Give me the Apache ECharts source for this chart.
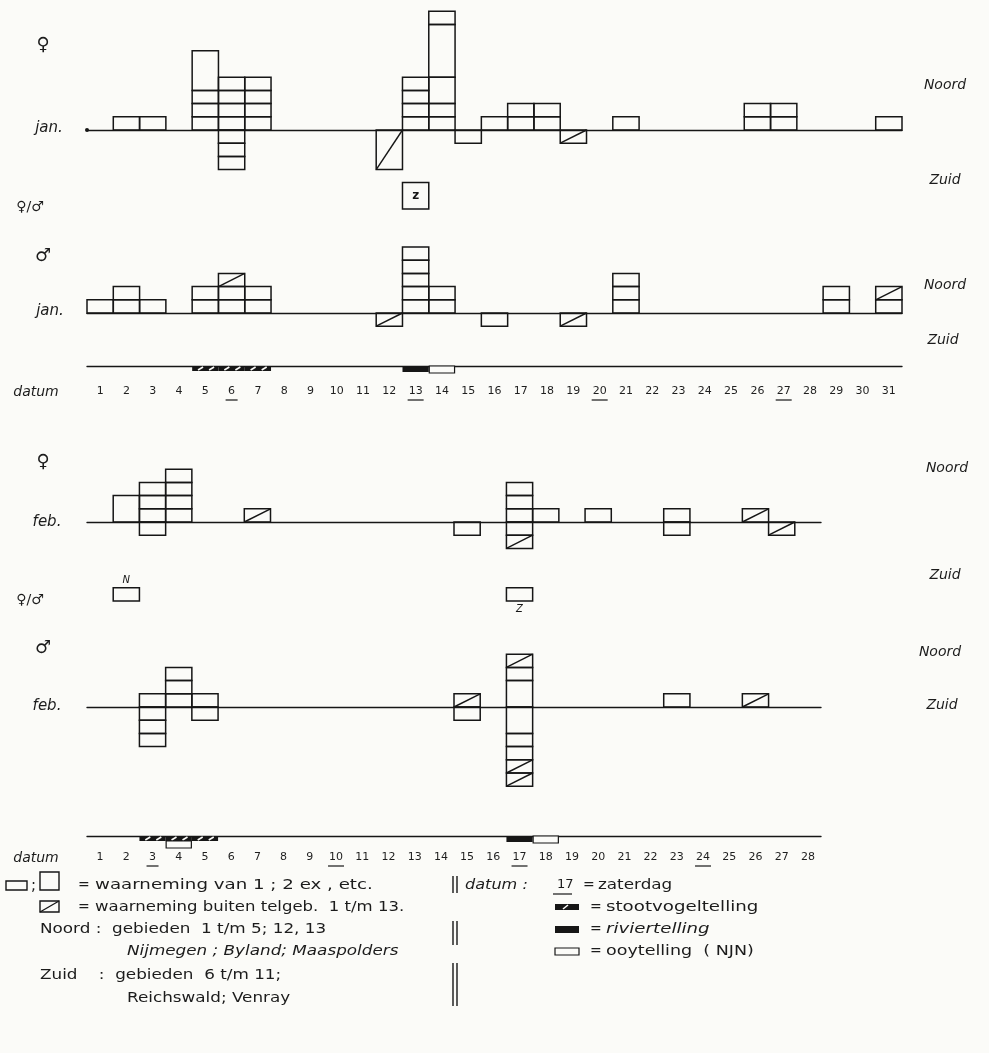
<!DOCTYPE html>
<html>
<head>
<meta charset="utf-8">
<script src="https://cdn.jsdelivr.net/npm/echarts@6/dist/echarts.min.js"></script>
<style>
html,body{margin:0;padding:0;background:#fbfbf8;}
#c{width:989px;height:1053px;}
</style>
</head>
<body>
<div id="c"></div>
<script>
// ---------- DATA ----------
const janDays = ['1','2','3','4','5','6','7','8','9','10','11','12','13','14','15','16','17','18','19','20','21','22','23','24','25','26','27','28','29','30','31'];
const febDays = ['1','2','3','4','5','6','7','8','9','10','11','12','13','14','15','16','17','18','19','20','21','22','23','24','25','26','27','28'];

// each observation box: [day, number of birds, outside count area (1 = hatched)]
const janFemNoord = [
  [2,1,0],[3,1,0],
  [5,1,0],[5,1,0],[5,1,0],[5,3,0],
  [6,1,0],[6,1,0],[6,1,0],[6,1,0],
  [7,1,0],[7,1,0],[7,1,0],[7,1,0],
  [13,1,0],[13,1,0],[13,1,0],[13,1,0],
  [14,1,0],[14,1,0],[14,2,0],[14,4,0],[14,1,0],
  [16,1,0],[17,1,0],[17,1,0],[18,1,0],[18,1,0],
  [21,1,0],[26,1,0],[26,1,0],[27,1,0],[27,1,0],[31,1,0]
];
const janFemZuid = [[6,1,0],[6,1,0],[6,1,0],[12,3,1],[15,1,0],[19,1,1]];
const janMixed = [[13,2,'z']];
const janMaleNoord = [
  [1,1,0],[2,1,0],[2,1,0],[3,1,0],
  [5,1,0],[5,1,0],[6,1,0],[6,1,0],[6,1,1],[7,1,0],[7,1,0],
  [13,1,0],[13,1,0],[13,1,0],[13,1,0],[13,1,0],
  [14,1,0],[14,1,0],
  [21,1,0],[21,1,0],[21,1,0],
  [29,1,0],[29,1,0],[31,1,0],[31,1,1]
];
const janMaleZuid = [[12,1,1],[16,1,0],[19,1,1]];

const febFemNoord = [
  [2,2,0],[3,1,0],[3,1,0],[3,1,0],[4,1,0],[4,1,0],[4,1,0],[4,1,0],
  [7,1,1],[17,1,0],[17,1,0],[17,1,0],[18,1,0],[20,1,0],[23,1,0],[26,1,1]
];
const febFemZuid = [[3,1,0],[15,1,0],[17,1,0],[17,1,1],[23,1,0],[27,1,1]];
const febMixed = [[2,1,'N'],[17,1,'Z']];
const febMaleNoord = [
  [3,1,0],[4,1,0],[4,1,0],[4,1,0],[5,1,0],[15,1,1],
  [17,2,0],[17,1,0],[17,1,1],[23,1,0],[26,1,1]
];
const febMaleZuid = [
  [3,1,0],[3,1,0],[3,1,0],[5,1,0],[15,1,0],
  [17,2,0],[17,1,0],[17,1,0],[17,1,1],[17,1,1]
];

// counts along the date strip
const janCounts = [[5,'stoot'],[6,'stoot'],[7,'stoot'],[13,'rivier'],[14,'ooy']];
const febCounts = [[3,'stoot'],[4,'stoot'],[5,'stoot'],[4,'ooy'],[17,'rivier'],[18,'ooy']];
const janSaturdays = [6,13,20,27];
const febSaturdays = [3,10,17,24];

// ---------- LAYOUT ----------
const U = 13.2;          // px per bird
const INK = '#161616';
const FONT = '"DejaVu Sans"';

function stackBoxes(noord, zuid) {
  const up = {}, dn = {}, out = [];
  noord.forEach(([d, s, h]) => { const a = up[d] || 0; out.push([d - 1, a, a + s, h]); up[d] = a + s; });
  zuid.forEach(([d, s, h]) => { const a = dn[d] || 0; out.push([d - 1, -a, -(a + s), h]); dn[d] = a + s; });
  return out;
}

function boxRender(params, api) {
  const idx = api.value(0), a = api.value(1), b = api.value(2), hat = api.value(3);
  const pA = api.coord([idx, a]), pB = api.coord([idx, b]);
  const w = api.size([1, 0])[0];
  const x0 = pA[0] - w / 2;
  const yT = Math.min(pA[1], pB[1]), yB = Math.max(pA[1], pB[1]);
  const ch = [{ type: 'rect', shape: { x: x0, y: yT, width: w, height: yB - yT },
    style: { fill: 'rgba(0,0,0,0)', stroke: INK, lineWidth: 1.5 } }];
  if (hat) ch.push({ type: 'line', shape: { x1: x0, y1: yB, x2: x0 + w, y2: yT }, style: { stroke: INK, lineWidth: 1.4 } });
  return { type: 'group', children: ch };
}

function mixedSeries(xi, yi, list) {
  return {
    type: 'custom', xAxisIndex: xi, yAxisIndex: yi,
    data: list.map(([d, s]) => [d - 1, 0, s, 0]),
    encode: { x: 0, y: [1, 2] },
    renderItem: (params, api) => {
      const g = boxRender(params, api);
      const letter = list[params.dataIndex][2];
      const s = list[params.dataIndex][1];
      const pA = api.coord([api.value(0), 0]), pB = api.coord([api.value(0), s]);
      let ty;
      if (s >= 2) ty = (pA[1] + pB[1]) / 2;
      else if (letter === 'N') ty = pB[1] - 7;
      else ty = pA[1] + 8;
      g.children.push({ type: 'text', style: { text: letter, x: pA[0], y: ty, align: 'center', verticalAlign: 'middle',
        font: (s >= 2 ? 'bold 12px ' : 'italic 10px ') + FONT, fill: INK } });
      return g;
    }
  };
}

function boxSeries(xi, yi, noord, zuid) {
  return { type: 'custom', xAxisIndex: xi, yAxisIndex: yi, data: stackBoxes(noord, zuid),
    encode: { x: 0, y: [1, 2] }, renderItem: boxRender };
}

function stripSeries(xi, yi, counts) {
  const typeCode = { stoot: 0, rivier: 1, ooy: 2 };
  const stootDays = counts.filter(c => c[1] === 'stoot').map(c => c[0]);
  const data = counts.map(([d, t]) => [d - 1, typeCode[t], (t === 'ooy' && stootDays.includes(d)) ? 1 : 0]);
  return {
    type: 'custom', xAxisIndex: xi, yAxisIndex: yi, data, encode: { x: 0, y: 2 },
    renderItem: (params, api) => {
      const idx = api.value(0), t = api.value(1), below = api.value(2);
      const p = api.coord([idx, 1]);
      const w = api.size([1, 0])[0];
      const x0 = p[0] - w / 2, y0 = p[1] + (below ? 5 : 0);
      if (t === 0) {
        const ch = [{ type: 'rect', shape: { x: x0, y: y0, width: w, height: 5 }, style: { fill: INK } }];
        [0.3, 0.72].forEach(f => ch.push({ type: 'line',
          shape: { x1: x0 + w * f - 2, y1: y0 + 4, x2: x0 + w * f + 3, y2: y0 + 1 },
          style: { stroke: '#fbfbf8', lineWidth: 1.6 } }));
        return { type: 'group', children: ch };
      }
      if (t === 1) return { type: 'rect', shape: { x: x0, y: y0, width: w, height: 6 }, style: { fill: INK } };
      return { type: 'rect', shape: { x: x0 + 0.5, y: y0, width: w - 1, height: 7 },
        style: { fill: '#fbfbf8', stroke: INK, lineWidth: 1.2 } };
    }
  };
}

function underlineSeries(xi, yi, days, drop) {
  return {
    type: 'custom', xAxisIndex: xi, yAxisIndex: yi, data: days.map(d => [d - 1, 0]), encode: { x: 0, y: 1 },
    renderItem: (params, api) => {
      const p = api.coord([api.value(0), 0]);
      const half = api.value(0) >= 9 ? 8 : 6;
      return { type: 'line', shape: { x1: p[0] - half, y1: p[1] + drop, x2: p[0] + half, y2: p[1] + drop },
        style: { stroke: INK, lineWidth: 1.2 } };
    }
  };
}

const JL = 87, JW = 815, FL = 87, FW = 734;
const grids = [
  { left: JL, width: JW, top: 130 - 9.5 * U, height: 13 * U },
  { left: JL, width: JW, top: 209 - 2 * U, height: 2 * U },
  { left: JL, width: JW, top: 313 - 5.5 * U, height: 7 * U },
  { left: JL, width: JW, top: 366, height: 10 },
  { left: FL, width: FW, top: 522 - 4.5 * U, height: 7 * U },
  { left: FL, width: FW, top: 601 - 1 * U, height: 1 * U },
  { left: FL, width: FW, top: 707 - 4.5 * U, height: 11 * U },
  { left: FL, width: FW, top: 836, height: 10 }
];
const yRanges = [[-3.5, 9.5], [0, 2], [-1.5, 5.5], [0, 1], [-2.5, 4.5], [0, 1], [-6.5, 4.5], [0, 1]];

function xA(gi, data, line, extra) {
  return Object.assign({
    gridIndex: gi, type: 'category', data, boundaryGap: true,
    axisLine: { show: line, onZero: true, lineStyle: { color: INK, width: 1.4 } },
    axisTick: { show: false }, axisLabel: { show: false }, splitLine: { show: false }
  }, extra || {});
}
function labelAxis(gi, data, margin) {
  return { gridIndex: gi, type: 'category', data, boundaryGap: true, position: 'bottom',
    axisLine: { show: false }, axisTick: { show: false }, splitLine: { show: false },
    axisLabel: { show: true, interval: 0, margin, color: '#1e1e1e', fontSize: 11, fontFamily: 'DejaVu Sans' } };
}

const xAxes = [
  xA(0, janDays, true, { axisLine: { show: true, onZero: true, symbol: ['circle', 'none'], symbolSize: [4, 4], lineStyle: { color: INK, width: 1.4 } } }),
  xA(1, janDays, false),
  xA(2, janDays, true),
  xA(3, janDays, true, { position: 'top', axisLine: { show: true, onZero: false, lineStyle: { color: INK, width: 1.4 } } }),
  labelAxis(3, janDays, 10),
  xA(4, febDays, true),
  xA(5, febDays, false),
  xA(6, febDays, true),
  xA(7, febDays, true, { position: 'top', axisLine: { show: true, onZero: false, lineStyle: { color: INK, width: 1.4 } } }),
  labelAxis(7, febDays, 6)
];
const yAxes = yRanges.map((r, i) => ({ gridIndex: i, type: 'value', min: r[0], max: r[1], show: false }));

// ---------- TEXT / LEGEND ----------
function T(text, x, y, size, o) {
  o = o || {};
  return { type: 'text', x, y, scaleX: o.sx || 1, silent: true, z: 10,
    style: { text, x: 0, y: 0, fill: '#1c1c1c', align: o.align || 'left', verticalAlign: 'middle',
      font: (o.italic ? 'italic ' : '') + size + 'px ' + (o.font || FONT) } };
}
function R(x, y, w, h, fill, lw) {
  return { type: 'rect', shape: { x, y, width: w, height: h }, silent: true,
    style: { fill: fill || 'rgba(0,0,0,0)', stroke: INK, lineWidth: lw == null ? 1.4 : lw } };
}
function L(x1, y1, x2, y2, c, lw) {
  return { type: 'line', shape: { x1, y1, x2, y2 }, silent: true, style: { stroke: c || INK, lineWidth: lw || 1.3 } };
}
function dbl(x, y1, y2) { return [L(x, y1, x, y2, INK, 1.4), L(x + 4, y1, x + 4, y2, INK, 1.4)]; }

const rows = [885, 907, 929, 951, 975, 998];
const graphics = [
  // January side labels
  T('♀', 43, 45, 18, { align: 'center' }),
  T('jan.', 49, 128, 15, { align: 'center', italic: true }),
  T('♀/♂', 30, 207, 14, { align: 'center' }),
  T('♂', 43, 256, 18, { align: 'center' }),
  T('jan.', 50, 311, 15, { align: 'center', italic: true }),
  T('Noord', 945, 85, 14, { align: 'center', italic: true }),
  T('Zuid', 945, 180, 14, { align: 'center', italic: true }),
  T('Noord', 945, 285, 14, { align: 'center', italic: true }),
  T('Zuid', 943, 340, 14, { align: 'center', italic: true }),
  T('datum', 36, 392, 14, { align: 'center', italic: true }),
  // February side labels
  T('♀', 43, 462, 18, { align: 'center' }),
  T('feb.', 47, 522, 15, { align: 'center', italic: true }),
  T('♀/♂', 30, 600, 14, { align: 'center' }),
  T('♂', 43, 648, 18, { align: 'center' }),
  T('feb.', 47, 706, 15, { align: 'center', italic: true }),
  T('Noord', 947, 468, 14, { align: 'center', italic: true }),
  T('Zuid', 945, 575, 14, { align: 'center', italic: true }),
  T('Noord', 940, 652, 14, { align: 'center', italic: true }),
  T('Zuid', 942, 705, 14, { align: 'center', italic: true }),
  T('datum', 36, 858, 14, { align: 'center', italic: true }),

  // legend left column
  R(6, rows[0] - 4, 21, 9), T(';', 31, rows[0] + 1, 15),
  R(40, rows[0] - 13, 19, 18),
  T('=', 78, rows[0], 14), T('waarneming van 1 ; 2 ex , etc.', 95, rows[0], 14, { sx: 1.3 }),
  R(40, rows[1] - 6, 19, 11), L(40, rows[1] + 5, 59, rows[1] - 6),
  T('=', 78, rows[1], 14), T('waarneming buiten telgeb.  1 t/m 13.', 95, rows[1], 14, { sx: 1.18 }),
  T('Noord :  gebieden  1 t/m 5; 12, 13', 40, rows[2], 14, { sx: 1.2, italic: false }),
  T('Nijmegen ; Byland; Maaspolders', 127, rows[3], 14, { sx: 1.2, italic: true }),
  T('Zuid    :  gebieden  6 t/m 11;', 40, rows[4], 14, { sx: 1.2 }),
  T('Reichswald; Venray', 127, rows[5], 14, { sx: 1.2 }),
  ...dbl(453, rows[0] - 9, rows[0] + 8),
  ...dbl(453, rows[2] - 8, rows[3] - 6),
  ...dbl(453, rows[4] - 12, rows[5] + 8),

  // legend right column
  T('datum :', 465, rows[0], 14, { sx: 1.15, italic: true }),
  T('17', 557, rows[0], 13), L(553, rows[0] + 9, 572, rows[0] + 9, INK, 1.2),
  T('=', 583, rows[0], 14), T('zaterdag', 598, rows[0], 14, { sx: 1.2 }),
  R(555, rows[1] - 3, 24, 6, INK, 0), L(563, rows[1] + 2, 568, rows[1] - 2, '#fbfbf8', 1.6),
  T('=', 590, rows[1], 14), T('stootvogeltelling', 606, rows[1], 14, { sx: 1.3 }),
  R(555, rows[2] - 3, 24, 7, INK, 0),
  T('=', 590, rows[2], 14), T('riviertelling', 606, rows[2], 14, { sx: 1.3, italic: true }),
  R(555, rows[3] - 3, 24, 7, '#fbfbf8', 1.2),
  T('=', 590, rows[3], 14), T('ooytelling  ( NJN)', 606, rows[3], 14, { sx: 1.25 })
];

// ---------- CHART ----------
const chart = echarts.init(document.getElementById('c'), null, { renderer: 'canvas' });
chart.setOption({
  backgroundColor: '#fbfbf8',
  animation: false,
  grid: grids,
  xAxis: xAxes,
  yAxis: yAxes,
  graphic: graphics,
  series: [
    boxSeries(0, 0, janFemNoord, janFemZuid),
    mixedSeries(1, 1, janMixed),
    boxSeries(2, 2, janMaleNoord, janMaleZuid),
    stripSeries(3, 3, janCounts),
    underlineSeries(4, 3, janSaturdays, 24),
    boxSeries(5, 4, febFemNoord, febFemZuid),
    mixedSeries(6, 5, febMixed),
    boxSeries(7, 6, febMaleNoord, febMaleZuid),
    stripSeries(8, 7, febCounts),
    underlineSeries(9, 7, febSaturdays, 20)
  ]
});
</script>
</body>
</html>
